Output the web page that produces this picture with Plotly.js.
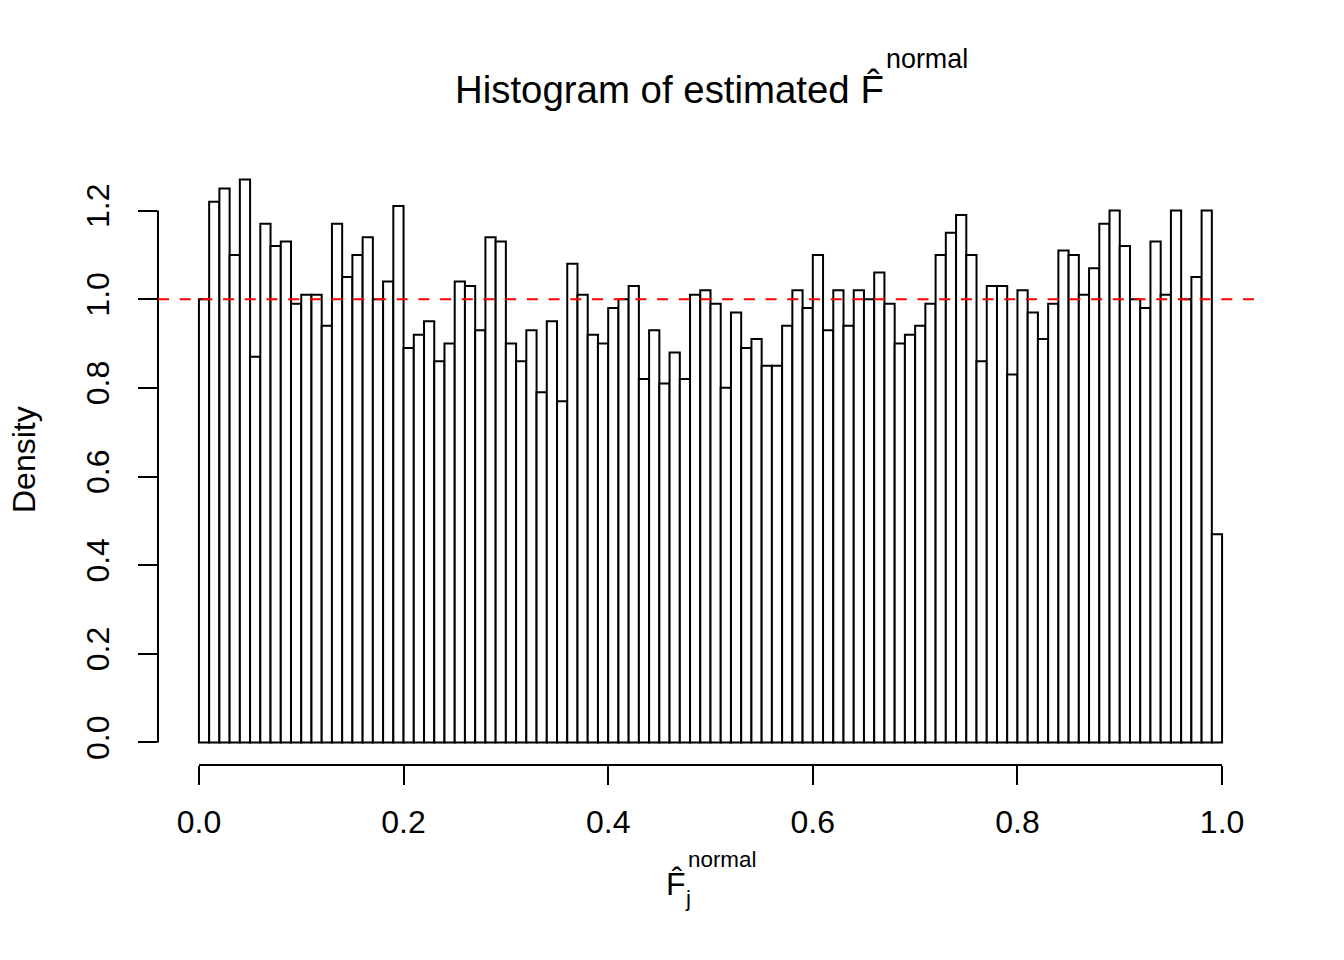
<!DOCTYPE html>
<html><head><meta charset="utf-8">
<script src="https://cdn.plot.ly/plotly-3.0.1.min.js"></script>
<style>html,body{margin:0;padding:0;background:#fff;}</style>
</head><body><div id="chart" style="width:1344px;height:960px;"></div>
<script>
// ---- data ----
const binStart = 0;
const binWidth = 0.01;
const density = [
  1.00, 1.22, 1.25, 1.10, 1.27, 0.87, 1.17, 1.12, 1.13, 0.99,
  1.01, 1.01, 0.94, 1.17, 1.05, 1.10, 1.14, 1.00, 1.04, 1.21,
  0.89, 0.92, 0.95, 0.86, 0.90, 1.04, 1.03, 0.93, 1.14, 1.13,
  0.90, 0.86, 0.93, 0.79, 0.95, 0.77, 1.08, 1.01, 0.92, 0.90,
  0.98, 1.00, 1.03, 0.82, 0.93, 0.81, 0.88, 0.82, 1.01, 1.02,
  0.99, 0.80, 0.97, 0.89, 0.91, 0.85, 0.85, 0.94, 1.02, 0.98,
  1.10, 0.93, 1.02, 0.94, 1.02, 1.00, 1.06, 0.99, 0.90, 0.92,
  0.94, 0.99, 1.10, 1.15, 1.19, 1.10, 0.86, 1.03, 1.03, 0.83,
  1.02, 0.97, 0.91, 0.99, 1.11, 1.10, 1.01, 1.07, 1.17, 1.20,
  1.12, 1.00, 0.98, 1.13, 1.01, 1.20, 1.00, 1.05, 1.20, 0.47
];
const xTickVals = [0, 0.2, 0.4, 0.6, 0.8, 1.0];
const xTickLabels = ["0.0", "0.2", "0.4", "0.6", "0.8", "1.0"];
const yTickVals = [0, 0.2, 0.4, 0.6, 0.8, 1.0, 1.2];
const yTickLabels = ["0.0", "0.2", "0.4", "0.6", "0.8", "1.0", "1.2"];
const refLine = 1;
const titleMain = "Histogram of estimated F\u0302";
const titleSup = "normal";
const xTitleMain = "F\u0302";
const xTitleSub = "j";
const xTitleSup = "normal";
const yTitle = "Density";

// ---- layout helpers ----
const W = 1344, H = 960;
const M = {l: 158, r: 81, t: 157, b: 195};
const PW = W - M.l - M.r, PH = H - M.t - M.b;
const xp = px => (px - M.l) / PW;
const yp = py => (M.t + PH - py) / PH;
const FONT = "Liberation Sans, Arial, Helvetica, sans-serif";

const centers = density.map((_, i) => binStart + (i + 0.5) * binWidth);

const trace = {
  type: 'bar',
  x: centers,
  y: density,
  width: binWidth,
  marker: {color: '#ffffff', line: {color: '#000000', width: 2}},
  hoverinfo: 'x+y'
};

const ann = (text, x, y, size, opts) => Object.assign({
  text: text, x: x, y: y, xref: 'paper', yref: 'paper',
  showarrow: false, xanchor: 'left', yanchor: 'middle',
  font: {family: FONT, size: size, color: '#000'}
}, opts || {});

const layout = {
  width: W, height: H,
  margin: M,
  paper_bgcolor: '#fff', plot_bgcolor: '#fff',
  showlegend: false,
  font: {family: FONT, size: 32, color: '#000'},
  xaxis: {
    range: [-0.04, 1.04], showgrid: false, zeroline: false, showline: false,
    tickmode: 'array', tickvals: xTickVals, ticktext: xTickLabels,
    ticks: 'outside', ticklen: 19, tickwidth: 2, tickcolor: '#000',
    ticklabelstandoff: 10,
    tickfont: {family: FONT, size: 32, color: '#000'}
  },
  yaxis: {
    range: [-0.0508, 1.3208], showgrid: false, zeroline: false, showline: false,
    tickmode: 'array', tickvals: yTickVals, ticktext: yTickLabels,
    ticks: 'outside', ticklen: 19, tickwidth: 2, tickcolor: '#000',
    tickangle: -90, ticklabelstandoff: 16,
    tickfont: {family: FONT, size: 32, color: '#000'}
  },
  shapes: [
    {type: 'line', xref: 'x', yref: 'paper', x0: xTickVals[0], x1: xTickVals[xTickVals.length - 1], y0: 0, y1: 0,
     line: {color: '#000', width: 2}},
    {type: 'line', xref: 'paper', yref: 'y', x0: 0, x1: 0, y0: yTickVals[0], y1: yTickVals[yTickVals.length - 1],
     line: {color: '#000', width: 2}},
    {type: 'line', xref: 'paper', yref: 'y', x0: 0, x1: 1, y0: refLine, y1: refLine,
     line: {color: '#ff0000', width: 2, dash: '11px,10.7px'}}
  ],
  annotations: [
    ann(titleMain, xp(453), yp(90), 38.4),
    ann(titleSup, xp(884), yp(59), 26.9),
    ann(xTitleMain, xp(676), yp(884), 32, {xanchor: 'center'}),
    ann(xTitleSub, xp(683), yp(898), 22.4),
    ann(xTitleSup, xp(686), yp(859), 22.4),
    ann(yTitle, xp(24), yp(460), 32, {xanchor: 'center', textangle: -90})
  ]
};

Plotly.newPlot('chart', [trace], layout, {displayModeBar: false, staticPlot: true});
</script>
</body></html>
